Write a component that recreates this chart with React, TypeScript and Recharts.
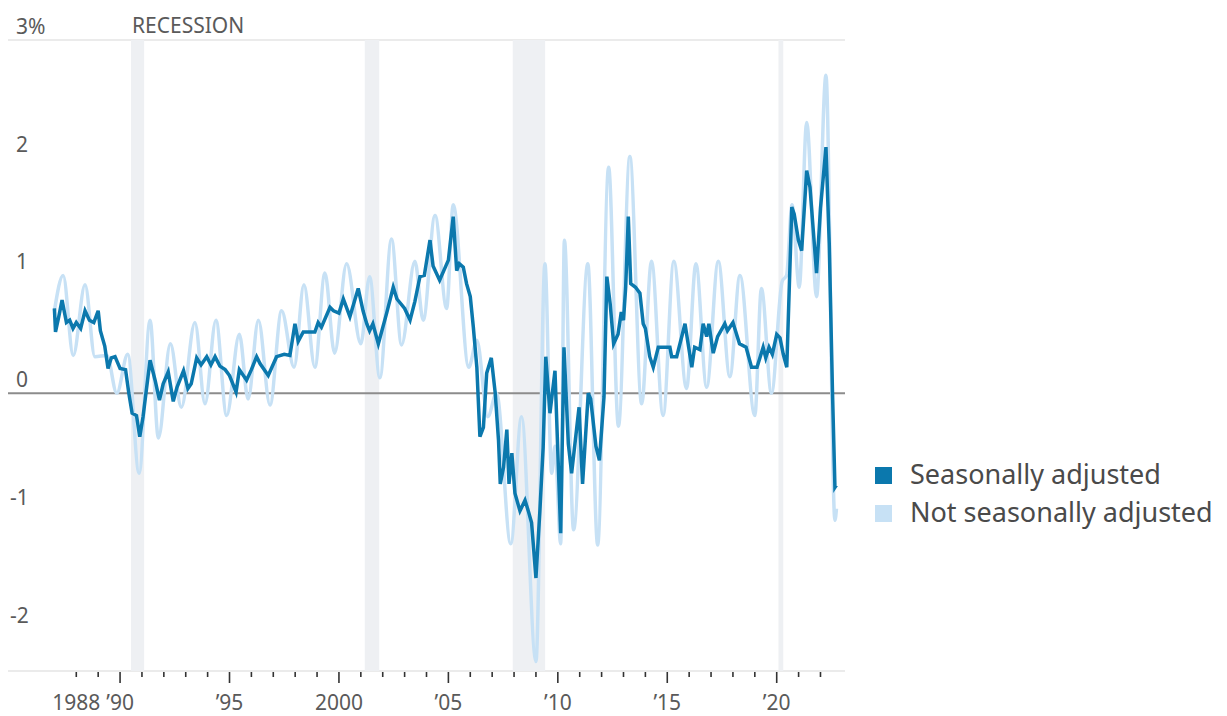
import React from "react";
import {
  LineChart,
  Line,
  XAxis,
  YAxis,
  CartesianGrid,
  ReferenceArea,
  ReferenceLine,
} from "recharts";

// Seasonally adjusted series (decimal year, percent)
const saYears = [
  1987.0, 1987.05, 1987.2, 1987.35, 1987.55, 1987.7, 1987.85, 1988.0, 1988.2, 1988.4,
  1988.6, 1988.8, 1989.0, 1989.1, 1989.3, 1989.45, 1989.6, 1989.77, 1990.0, 1990.25,
  1990.4, 1990.55, 1990.75, 1990.9, 1991.05, 1991.15, 1991.37, 1991.6, 1991.8, 1991.97,
  1992.2, 1992.43, 1992.6, 1992.9, 1993.1, 1993.25, 1993.5, 1993.7, 1993.96, 1994.15,
  1994.34, 1994.56, 1994.8, 1995.0, 1995.3, 1995.45, 1995.78, 1996.0, 1996.24, 1996.4,
  1996.77, 1997.15, 1997.5, 1997.76, 1997.99, 1998.14, 1998.37, 1998.9, 1999.05, 1999.2,
  1999.59, 1999.75, 2000.0, 2000.2, 2000.5, 2000.88, 2001.1, 2001.27, 2001.4, 2001.55,
  2001.8, 2002.18, 2002.48, 2002.65, 2003.0, 2003.25, 2003.47, 2003.7, 2003.9, 2004.16,
  2004.3, 2004.6, 2005.0, 2005.22, 2005.38, 2005.5, 2005.68, 2005.83, 2006.0, 2006.14,
  2006.3, 2006.44, 2006.6, 2006.75, 2006.96, 2007.14, 2007.29, 2007.37, 2007.52, 2007.67,
  2007.77, 2007.9, 2008.04, 2008.27, 2008.5, 2008.65, 2008.8, 2009.0, 2009.18, 2009.33,
  2009.45, 2009.64, 2009.87, 2010.13, 2010.28, 2010.48, 2010.63, 2010.86, 2010.97, 2011.13,
  2011.39, 2011.5, 2011.74, 2011.9, 2012.11, 2012.24, 2012.39, 2012.55, 2012.75, 2012.9,
  2013.0, 2013.1, 2013.22, 2013.33, 2013.55, 2013.75, 2013.9, 2014.0, 2014.2, 2014.36,
  2014.59, 2015.12, 2015.2, 2015.43, 2015.81, 2016.12, 2016.25, 2016.49, 2016.64, 2016.8,
  2016.9, 2017.1, 2017.3, 2017.63, 2017.75, 2018.0, 2018.3, 2018.6, 2018.85, 2019.1,
  2019.38, 2019.5, 2019.65, 2019.8, 2020.0, 2020.15, 2020.3, 2020.46, 2020.69, 2020.8,
  2020.99, 2021.14, 2021.37, 2021.52, 2021.82, 2022.0, 2022.25, 2022.4, 2022.55, 2022.66,
  2022.73,
];
const saValues = [
  0.72, 0.52, 0.65, 0.79, 0.6, 0.62, 0.55, 0.6, 0.55, 0.7,
  0.62, 0.6, 0.7, 0.53, 0.4, 0.21, 0.3, 0.31, 0.21, 0.2,
  0.0, -0.17, -0.19, -0.37, -0.2, -0.05, 0.28, 0.11, -0.06, 0.08,
  0.18, -0.07, 0.05, 0.19, 0.04, 0.08, 0.3, 0.24, 0.31, 0.24,
  0.31, 0.23, 0.2, 0.15, 0.01, 0.2, 0.11, 0.2, 0.31, 0.25,
  0.15, 0.31, 0.33, 0.32, 0.59, 0.44, 0.52, 0.52, 0.6, 0.56,
  0.73, 0.7, 0.68, 0.8, 0.65, 0.89, 0.7, 0.59, 0.53, 0.59,
  0.42, 0.68, 0.9, 0.8, 0.72, 0.62, 0.78, 0.99, 1.0, 1.3,
  1.08, 0.96, 1.13, 1.5, 1.04, 1.1, 1.07, 0.93, 0.82, 0.56,
  0.22, -0.37, -0.29, 0.17, 0.3, 0.0, -0.4, -0.77, -0.63, -0.31,
  -0.77, -0.51, -0.85, -1.0, -0.91, -1.0, -1.1, -1.57, -1.0, -0.46,
  0.31, -0.17, 0.19, -1.19, 0.39, -0.43, -0.68, -0.3, -0.12, -0.77,
  0.0, -0.05, -0.45, -0.57, -0.03, 0.99, 0.76, 0.42, 0.5, 0.69,
  0.62, 0.9, 1.5, 0.93, 0.9, 0.85, 0.59, 0.55, 0.31, 0.22,
  0.39, 0.39, 0.31, 0.31, 0.59, 0.22, 0.39, 0.37, 0.59, 0.48,
  0.59, 0.34, 0.48, 0.59, 0.53, 0.6, 0.42, 0.39, 0.22, 0.22,
  0.39, 0.3, 0.39, 0.33, 0.5, 0.47, 0.33, 0.22, 1.58, 1.52,
  1.3, 1.21, 1.89, 1.75, 1.02, 1.57, 2.09, 1.27, 0.0, -0.8,
  -0.78,
];

// Not seasonally adjusted series: turning points
const nsaYears = [
  1987.0, 1987.4, 1987.86, 1988.4, 1988.85, 1989.4, 1989.85, 1990.35, 1990.87, 1991.37,
  1991.75, 1992.3, 1992.8, 1993.42, 1993.88, 1994.38, 1994.87, 1995.45, 1995.85, 1996.32,
  1996.85, 1997.38, 1997.95, 1998.4, 1998.9, 1999.36, 1999.8, 2000.35, 2001.0, 2001.4,
  2001.87, 2002.4, 2002.86, 2003.47, 2003.85, 2004.39, 2004.92, 2005.22, 2005.93, 2006.3,
  2006.8, 2007.2, 2007.85, 2008.34, 2009.0, 2009.41, 2009.72, 2009.87, 2010.13, 2010.3,
  2010.72, 2011.37, 2011.82, 2012.32, 2012.77, 2013.29, 2013.83, 2014.28, 2014.81, 2015.3,
  2015.88, 2016.31, 2016.8, 2017.33, 2017.86, 2018.32, 2019.0, 2019.3, 2019.76, 2020.25,
  2020.45, 2020.7, 2021.03, 2021.37, 2021.82, 2022.25, 2022.66, 2022.73,
];
const nsaValues = [
  0.7, 1.0, 0.32, 0.92, 0.31, 0.32, 0.0, 0.33, -0.68, 0.62,
  -0.38, 0.42, -0.12, 0.6, -0.09, 0.62, -0.19, 0.5, -0.05, 0.62,
  -0.1, 0.7, 0.22, 0.92, 0.22, 1.02, 0.34, 1.1, 0.42, 0.99,
  0.13, 1.31, 0.41, 1.12, 0.62, 1.51, 0.72, 1.6, 0.22, 0.45,
  -0.2, 0.0, -1.28, -0.2, -2.28, 1.1, -0.68, -0.45, -1.28, 1.3,
  -1.16, 1.1, -1.29, 1.92, -0.28, 2.01, -0.09, 1.12, -0.19, 1.12,
  0.04, 1.1, 0.05, 1.12, 0.14, 1.0, -0.19, 0.89, 0.0, 0.95,
  1.0, 1.6, 0.9, 2.3, 0.82, 2.7, -1.08, -0.98,
];

const recessionStarts = [1990.5, 2001.18, 2007.94, 2020.08];
const recessionEnds = [1991.1, 2001.84, 2009.42, 2020.3];

const tickYears = [
  1988, 1989, 1990, 1991, 1992, 1993, 1994, 1995, 1996, 1997, 1998, 1999, 2000, 2001,
  2002, 2003, 2004, 2005, 2006, 2007, 2008, 2009, 2010, 2011, 2012, 2013, 2014, 2015,
  2016, 2017, 2018, 2019, 2020, 2021, 2022,
];
const labelYears = [1988, 1990, 1995, 2000, 2005, 2010, 2015, 2020];
const labelTexts = ["1988", "\u201990", "\u201995", "2000", "\u201905", "\u201910", "\u201915", "\u201920"];

const yTicks = [-2, -1, 0, 1, 2, 3];
const yLabels = ["-2", "-1", "0", "1", "2", "3%"];

const seriesNames = ["Seasonally adjusted", "Not seasonally adjusted"];

const SA_COLOR = "#0b78ad";
const NSA_COLOR = "#c7e1f5";
const FONT = "'Noto Sans', sans-serif";
const TEXT = "#5a5a5a";

const saData = saYears.map((t, i) => ({ t, v: saValues[i] }));
const nsaData = nsaYears.map((t, i) => ({ t, v: nsaValues[i] }));

const XTick = (props: any) => {
  const { x, y, payload } = props;
  const yr = payload.value;
  const major = yr % 5 === 0;
  const li = labelYears.indexOf(yr);
  return (
    <g>
      <line x1={x} x2={x} y1={y + 1} y2={y + (major ? 12 : 6)} stroke="#333" strokeWidth={1.6} />
      {li >= 0 && (
        <text x={x} y={y + 39} textAnchor="middle" fontSize={21} fontFamily={FONT} fill={TEXT}>
          {labelTexts[li]}
        </text>
      )}
    </g>
  );
};

const yLabel = (text: string, neg: boolean) => (p: any) => (
  <text x={p.viewBox.x + (neg ? 2 : 8)} y={p.viewBox.y - 6} fontSize={21} fontFamily={FONT} fill={TEXT}>
    {text}
  </text>
);

const LegendBox = () => (
  <svg width={350} height={90} style={{ position: "absolute", left: 867, top: 440 }}>
    {seriesNames.map((name, i) => (
      <g key={name}>
        <rect x={0} y={19 + i * 38} width={17} height={17} fill={i === 0 ? SA_COLOR : NSA_COLOR} />
        <text x={35} y={36 + i * 38} fontSize={27} fontFamily={FONT} fill="#4a4a4a">
          {name}
        </text>
      </g>
    ))}
  </svg>
);

export default function App() {
  return (
    <div style={{ position: "relative", width: 1219, height: 708 }}>
      <LineChart width={1219} height={708} margin={{ top: 32, right: 382, bottom: 0, left: 0 }}>
        <CartesianGrid vertical={false} stroke="#ebebeb" strokeWidth={2} />
        {recessionStarts.map((s, i) => (
          <ReferenceArea
            key={s}
            x1={s}
            x2={recessionEnds[i]}
            fill="#eef0f3"
            fillOpacity={1}
            stroke="none"
            label={
              i === 0
                ? (p: any) => (
                    <text x={p.viewBox.x + 1} y={p.viewBox.y - 7} fontSize={21} fontFamily={FONT} fill={TEXT}>
                      RECESSION
                    </text>
                  )
                : undefined
            }
          />
        ))}
        <XAxis
          dataKey="t"
          type="number"
          domain={[1984.88, 2023.12]}
          allowDataOverflow
          ticks={tickYears}
          interval={0}
          height={45}
          axisLine={false}
          tickLine={false}
          tickSize={0}
          tickMargin={0}
          tick={<XTick />}
        />
        <YAxis
          type="number"
          domain={[-2.36, 3]}
          allowDataOverflow
          ticks={yTicks}
          width={0}
          axisLine={false}
          tickLine={false}
          tick={false}
        />
        {yTicks.map((v, i) => (
          <ReferenceLine
            key={v}
            y={v}
            stroke={v === 0 ? "#8c8c8c" : "none"}
            strokeWidth={2}
            label={yLabel(yLabels[i], v < 0)}
          />
        ))}
        <Line
          data={nsaData}
          dataKey="v"
          name={seriesNames[1]}
          type="monotone"
          stroke={NSA_COLOR}
          strokeWidth={3.5}
          dot={false}
          isAnimationActive={false}
        />
        <Line
          data={saData}
          dataKey="v"
          name={seriesNames[0]}
          type="linear"
          stroke={SA_COLOR}
          strokeWidth={3.5}
          dot={false}
          isAnimationActive={false}
        />
      </LineChart>
      <LegendBox />
    </div>
  );
}
